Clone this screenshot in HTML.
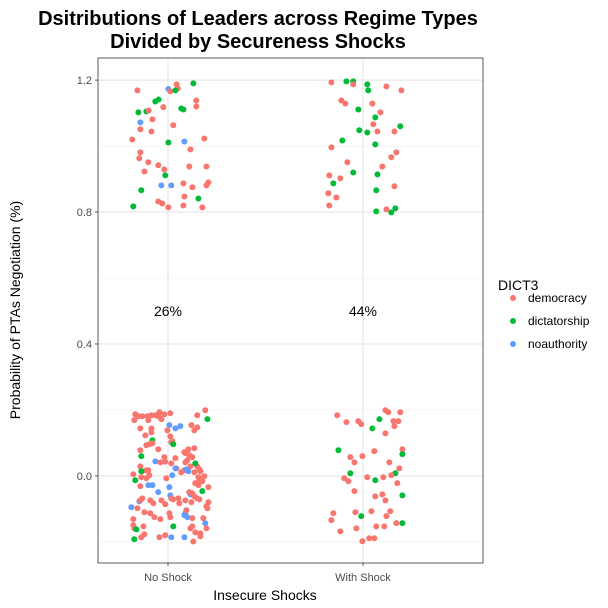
<!DOCTYPE html>
<html><head><meta charset="utf-8">
<style>
html,body{margin:0;padding:0;background:#fff;}
svg{display:block;font-family:"Liberation Sans",Arial,sans-serif;}
</style></head>
<body>
<svg id="chart" width="608" height="608" viewBox="0 0 608 608">
  <rect width="608" height="608" fill="#fff"/>
  <text x="258" y="25" text-anchor="middle" font-size="20" font-weight="bold" fill="#000">Dsitributions of Leaders across Regime Types</text>
  <text x="258" y="48" text-anchor="middle" font-size="20" font-weight="bold" fill="#000">Divided by Secureness Shocks</text>
  <g id="grid"></g>
  <g id="points"></g>
  <g id="annot"></g>
  <rect x="98" y="58" width="385" height="505" fill="none" stroke="#333" stroke-width="0.8"/>
  <g id="axes"></g>
  <text x="265" y="600" text-anchor="middle" font-size="14" fill="#000">Insecure Shocks</text>
  <text transform="translate(20,310) rotate(-90)" text-anchor="middle" font-size="14" fill="#000">Probability of PTAs Negotiation (%)</text>
  <g id="legend">
    <text x="498" y="290" font-size="14" fill="#000">DICT3</text>
  </g>
</svg>
<script>
const categories = ["No Shock", "With Shock"];
const yTicks = [0.0, 0.4, 0.8, 1.2];
const yTickLabels = ["0.0", "0.4", "0.8", "1.2"];
const yMinor = [-0.2, 0.2, 0.6, 1.0];
const regimes = ["democracy", "dictatorship", "noauthority"];
const regimeColors = ["#F8766D", "#00BA38", "#619CFF"];
const annotationValues = ["26%", "44%"];
const annotationY = 0.5;

// No Shock, high values
const g0TopRegime = "rbrrrggggrrrggggrrbrrrrgbrrrrrrrrrrgrrrrbbgrgrrgrrr".split("");
const g0TopJitter = [-0.157,0.002,0.044,0.050,0.012,0.038,0.130,-0.065,-0.048,0.145,0.145,-0.024,0.068,0.079,-0.152,-0.111,-0.099,-0.080,-0.142,0.027,-0.142,-0.085,-0.183,0.002,0.084,0.186,0.115,-0.142,-0.147,-0.101,-0.050,-0.019,0.109,0.197,-0.121,-0.014,0.079,0.125,0.207,0.197,-0.034,0.017,-0.137,0.084,0.156,-0.050,-0.029,-0.178,0.002,0.079,0.176];
const g0TopValue = [1.169,1.173,1.187,1.175,1.166,1.169,1.190,1.135,1.141,1.138,1.120,1.118,1.114,1.111,1.102,1.105,1.108,1.081,1.072,1.063,1.051,1.044,1.020,1.011,1.014,1.023,0.990,0.981,0.963,0.951,0.942,0.929,0.938,0.938,0.923,0.911,0.887,0.875,0.890,0.881,0.881,0.881,0.866,0.847,0.841,0.832,0.826,0.817,0.814,0.820,0.814];

// With Shock, high values
const g1TopRegime = "rggrgrgrrrrgrgrgggrrggrrrrrggrrgrgrrrrggg".split("");
const g1TopJitter = [-0.162,-0.085,-0.050,-0.050,0.022,0.120,0.027,0.197,-0.111,-0.091,0.048,-0.024,0.089,0.063,0.053,0.191,-0.019,0.022,0.074,0.161,-0.106,0.063,-0.162,0.171,0.145,-0.080,0.099,-0.050,0.074,-0.173,-0.116,-0.152,0.161,0.068,-0.178,-0.137,-0.173,0.120,0.166,0.068,0.145];
const g1TopValue = [1.193,1.196,1.196,1.187,1.187,1.181,1.169,1.169,1.138,1.129,1.129,1.111,1.102,1.087,1.066,1.060,1.048,1.041,1.044,1.044,1.017,1.005,0.996,0.981,0.966,0.951,0.938,0.920,0.914,0.911,0.902,0.887,0.878,0.866,0.857,0.844,0.820,0.808,0.811,0.802,0.799];

// With Shock, low values
const g1LowRegime = "rrrrgrrrrrrgrgrrgrrrrrggrrrrrgrrrrrgrrrrgrrrgrrrrrr".split("");
const g1LowJitter = [0.115,0.130,0.191,-0.132,0.084,-0.085,-0.024,-0.009,0.156,0.181,0.161,0.048,0.115,-0.126,0.058,0.202,0.202,-0.065,-0.003,-0.044,0.135,0.186,-0.065,0.166,0.145,-0.096,-0.075,0.022,0.104,0.063,0.176,-0.044,0.063,0.099,0.115,0.202,0.043,0.140,-0.152,-0.039,-0.009,0.120,-0.162,0.171,0.202,-0.034,0.068,0.109,-0.116,0.032,0.058,-0.003];
const g1LowValue = [0.199,0.193,0.193,0.184,0.172,0.163,0.166,0.157,0.166,0.166,0.151,0.144,0.129,0.078,0.075,0.081,0.066,0.057,0.060,0.041,0.041,0.023,0.008,0.008,0.002,-0.007,-0.016,-0.004,-0.004,-0.013,-0.022,-0.046,-0.062,-0.056,-0.074,-0.059,-0.107,-0.107,-0.113,-0.110,-0.122,-0.122,-0.134,-0.143,-0.143,-0.159,-0.153,-0.153,-0.168,-0.189,-0.189,-0.198];

// No Shock, low values
const g0LowRegime = ("rrrrrrrrrrrrrrrg" + "bbb" + "rrrrrrrrrrr" + "gg" + "rrrrrrrrrr" + "g" + "rrrr" + "b" +
  "rrrrrrrrrrrrrrrrrrrrrrrrrrrrr" + "gggg" + "bbbbbbbbbbbbbbbbbb" +
  "rrrrrrrrrrrrrrrrrrrrrrrrrrrrrrrrrrrrrrrrrrrrr" + "ggg").split("");
const g0LowJitter = [-0.168,-0.152,-0.173,-0.132,-0.106,-0.085,-0.101,-0.065,-0.044,-0.050,-0.019,-0.034,0.012,0.191,0.150,0.202,
  0.007,0.038,0.063,
  -0.142,-0.085,-0.085,-0.116,-0.003,0.120,0.150,0.135,0.012,0.022,0.017,
  -0.080,0.027,
  -0.111,-0.096,-0.080,-0.050,-0.142,0.084,0.104,0.135,0.089,0.109,
  -0.137,
  0.125,0.038,-0.019,-0.015,
  -0.065,
  -0.039,0.017,0.089,0.099,-0.142,-0.101,-0.111,-0.132,0.043,0.068,0.084,0.115,0.150,0.161,0.135,0.166,-0.178,-0.096,-0.111,-0.137,-0.009,0.156,0.186,0.161,0.176,0.140,0.156,0.207,-0.142,0.176,
  0.140,-0.137,-0.168,-0.050,
  0.038,0.094,0.104,0.022,-0.101,-0.080,0.007,0.012,-0.147,0.115,-0.188,0.089,0.099,0.084,0.191,0.017,0.084,0.166,
  0.109,0.125,0.135,0.150,0.161,0.089,-0.132,-0.142,-0.091,-0.075,-0.034,-0.014,0.017,0.027,0.053,0.058,0.207,0.120,0.202,0.197,-0.157,-0.121,-0.091,0.094,0.007,0.012,-0.070,-0.039,-0.178,0.125,0.181,-0.178,-0.126,-0.173,-0.121,-0.137,-0.044,-0.014,0.115,0.125,0.197,0.140,0.166,0.130,
  0.027,-0.162,-0.173];
const g0LowValue = [0.187,0.181,0.169,0.181,0.181,0.184,0.169,0.184,0.193,0.181,0.187,0.172,0.190,0.199,0.184,0.172,
  0.154,0.144,0.151,
  0.144,0.144,0.132,0.123,0.138,0.154,0.147,0.138,0.120,0.105,0.102,
  0.108,0.096,
  0.093,0.096,0.099,0.081,0.078,0.072,0.081,0.084,0.069,0.063,
  0.060,
  0.057,0.054,0.057,0.043,
  0.044,
  0.041,0.038,0.041,0.047,0.029,0.017,0.017,0.014,0.023,0.011,0.017,0.029,0.029,0.020,0.011,0.014,0.005,0.002,-0.007,-0.004,-0.007,-0.004,-0.001,-0.016,-0.016,-0.022,-0.028,-0.034,-0.031,-0.046,
  0.038,0.014,-0.013,-0.049,
  0.023,0.020,0.014,0.002,-0.028,-0.028,-0.034,-0.059,-0.077,-0.056,-0.095,-0.113,-0.125,-0.119,-0.143,-0.186,-0.186,-0.174,
  -0.049,-0.053,-0.062,-0.068,-0.071,-0.074,-0.068,-0.074,-0.074,-0.083,-0.074,-0.086,-0.068,-0.071,-0.068,-0.083,-0.080,-0.080,-0.098,-0.092,-0.098,-0.110,-0.113,-0.104,-0.113,-0.125,-0.125,-0.131,-0.131,-0.128,-0.128,-0.149,-0.153,-0.159,-0.177,-0.186,-0.186,-0.180,-0.159,-0.153,-0.159,-0.171,-0.183,-0.199,
  -0.153,-0.162,-0.192];

const NS = "http://www.w3.org/2000/svg";
const plot = {left:98, right:483, top:58, bottom:563};
const yDomain = [-0.264, 1.267];
function yScale(v){ return plot.bottom - (v - yDomain[0]) / (yDomain[1] - yDomain[0]) * (plot.bottom - plot.top); }
const bandStep = 195, firstCenter = 168;
function xScale(catIndex, jit){ return firstCenter + catIndex * bandStep + (jit || 0) * bandStep; }
function mk(tag, attrs){ const e = document.createElementNS(NS, tag); for (const k in attrs) e.setAttribute(k, attrs[k]); return e; }

const grid = document.getElementById('grid');
yMinor.forEach(v => {
  const l = mk('line', {x1:plot.left, x2:plot.right, y1:yScale(v), y2:yScale(v), stroke:'#f0f0f0', 'stroke-width':0.6});
  
  
  grid.appendChild(l);
});
yTicks.forEach(v => {
  const l = mk('line', {x1:plot.left, x2:plot.right, y1:yScale(v), y2:yScale(v), stroke:'#e3e3e3', 'stroke-width':1});
  
  
  grid.appendChild(l);
});
categories.forEach((c, i) => {
  const l = mk('line', {x1:xScale(i), x2:xScale(i), y1:plot.top, y2:plot.bottom, stroke:'#e3e3e3', 'stroke-width':1});
  
  
  grid.appendChild(l);
});

const axes = document.getElementById('axes');
yTicks.forEach((v, i) => {
  const t = mk('line', {x1:plot.left-3, x2:plot.left, y1:yScale(v), y2:yScale(v), stroke:'#333', 'stroke-width':0.8});
  
  
  axes.appendChild(t);
  const tx = mk('text', {x:plot.left-6, y:yScale(v)+4, 'text-anchor':'end', 'font-size':11, fill:'#4d4d4d'});
  tx.textContent = yTickLabels[i];
  
  
  axes.appendChild(tx);
});
categories.forEach((c, i) => {
  const t = mk('line', {x1:xScale(i), x2:xScale(i), y1:plot.bottom, y2:plot.bottom+3, stroke:'#333', 'stroke-width':0.8});
  
  
  axes.appendChild(t);
  const tx = mk('text', {x:xScale(i), y:plot.bottom+18, 'text-anchor':'middle', 'font-size':11, fill:'#4d4d4d'});
  tx.textContent = c;
  
  
  axes.appendChild(tx);
});

const pts = document.getElementById('points');
const codeIdx = {r:0, g:1, b:2};
function drawSet(catIndex, reg, jit, val){
  for (let i = 0; i < val.length; i++) {
    const ri = codeIdx[reg[i]] !== undefined ? codeIdx[reg[i]] : 0;
    const c = mk('circle', {cx:xScale(catIndex, jit[i]), cy:yScale(val[i]), r:3, fill:regimeColors[ri]});
    
    
    pts.appendChild(c);
  }
}
drawSet(0, g0TopRegime, g0TopJitter, g0TopValue);
drawSet(0, g0LowRegime, g0LowJitter, g0LowValue);
drawSet(1, g1TopRegime, g1TopJitter, g1TopValue);
drawSet(1, g1LowRegime, g1LowJitter, g1LowValue);

const annot = document.getElementById('annot');
annotationValues.forEach((a, i) => {
  const t = mk('text', {x:xScale(i), y:yScale(annotationY)+5, 'text-anchor':'middle', 'font-size':14, fill:'#000'});
  t.textContent = a;
  
  
  annot.appendChild(t);
});

const legend = document.getElementById('legend');
regimes.forEach((r, i) => {
  const y = 298 + i * 23;
  const c = mk('circle', {cx:513, cy:y, r:3, fill:regimeColors[i]});
  
  
  legend.appendChild(c);
  const t = mk('text', {x:528, y:y+4, 'font-size':12, fill:'#000'});
  t.textContent = r;
  
  
  legend.appendChild(t);
});
</script>
</body></html>
